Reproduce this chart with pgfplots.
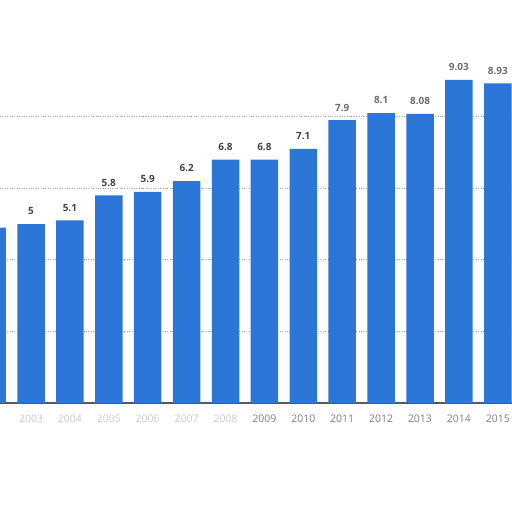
\documentclass[border=0pt]{standalone}
\usepackage{fontspec}
\setmainfont{Open Sans}
\usepackage{pgfplots}
\pgfplotsset{compat=1.18}
\definecolor{barblue}{HTML}{2B76D6}
\definecolor{labdark}{HTML}{454545}
\definecolor{lablight}{HTML}{6E6E6E}
\definecolor{ticklab}{HTML}{7C7C7C}
\definecolor{tickfaint}{HTML}{C8C8C8}
\begin{document}
\begin{tikzpicture}[x=1bp,y=1bp]
\begin{axis}[
    at={(0,0)}, anchor=south west,
    scale only axis, width=512bp, height=403bp,
    xmin=2002.203, xmax=2015.365, ymin=0, ymax=11.26,
    ybar, bar width=27.5bp, bar shift=0pt,
    axis x line*=bottom, axis y line*=left,
    y axis line style={draw=none},
    x axis line style={draw=black!65, line width=1.3pt},
    ytick={2,4,6,8}, yticklabels={}, ymajorgrids,
    major grid style={dotted, line width=0.8pt, black!35},
    major tick length=0pt,
    xtick={2003,...,2015},
    xticklabels={{\color{tickfaint}2003},{\color{tickfaint}2004},{\color{tickfaint}2005},{\color{tickfaint}2006},{\color{tickfaint}2007},{\color{tickfaint}2008},2009,2010,2011,2012,2013,2014,2015},
    x tick label style={font=\fontsize{10.5}{11}\selectfont, text=ticklab, anchor=base, yshift=-19bp},
    nodes near coords, point meta=explicit symbolic,
    every node near coord/.append style={font=\bfseries\fontsize{10}{11}\selectfont, yshift=5.5bp},
]
\addplot[fill=barblue, draw=none, every node near coord/.append style={text=labdark}] table[meta=lab] {
x    y    lab
2002 4.9  4.9
2003 5.0  5
2004 5.1  5.1
2005 5.8  5.8
2006 5.9  5.9
2007 6.2  6.2
2008 6.8  6.8
2009 6.8  6.8
2010 7.1  7.1
};
\addplot[fill=barblue, draw=none, every node near coord/.append style={text=lablight}] table[meta=lab] {
x    y    lab
2011 7.9  7.9
2012 8.1  8.1
2013 8.08 8.08
2014 9.03 9.03
2015 8.93 8.93
};
\node[font=\fontsize{10.5}{11}\selectfont, text=ticklab, anchor=base, yshift=-19bp] at (axis cs:2002,0) {2002};
\end{axis}
\pgfresetboundingbox
\path (0,-109) rectangle (512,403);
\end{tikzpicture}
\end{document}
